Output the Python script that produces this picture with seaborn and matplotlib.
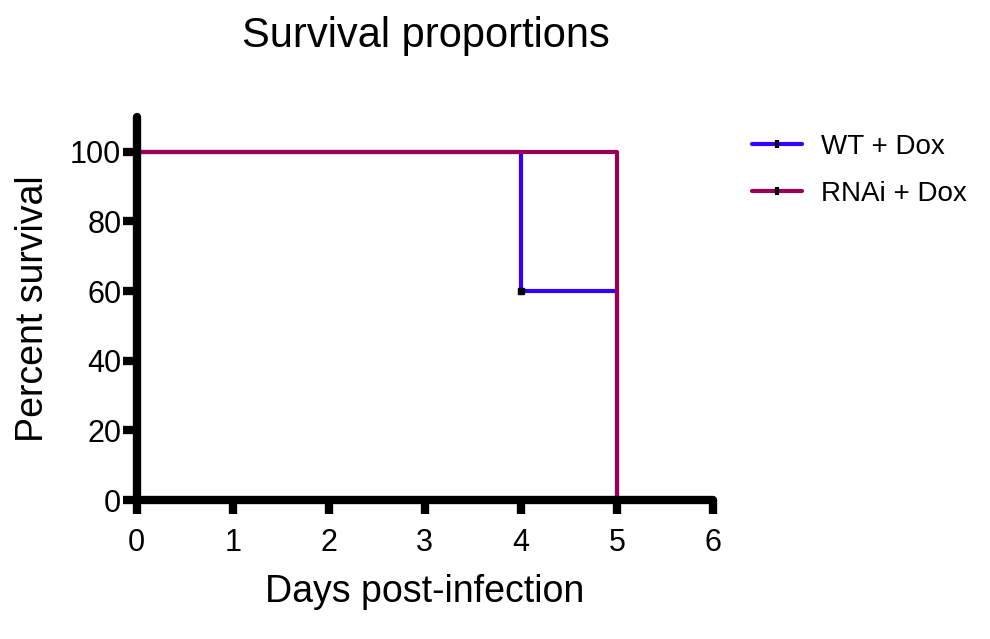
import numpy as np
import pandas as pd
import matplotlib
matplotlib.use("Agg")
import matplotlib.pyplot as plt
from matplotlib.lines import Line2D
import seaborn as sns

sns.set_theme(style="ticks")
plt.rcParams['font.family'] = ['Liberation Sans', 'DejaVu Sans']
plt.rcParams['text.color'] = 'black'
plt.rcParams['axes.labelcolor'] = 'black'
plt.rcParams['xtick.color'] = 'black'
plt.rcParams['ytick.color'] = 'black'

# Данные кривых выживания
wt_days = [0, 4, 5]
wt_survival = [100, 60, 0]
rnai_days = [0, 5]
rnai_survival = [100, 0]
x_ticks = [0, 1, 2, 3, 4, 5, 6]
y_ticks = [0, 20, 40, 60, 80, 100]
labels = ['WT + Dox', 'RNAi + Dox']
colors = ['#3300ff', '#990055']

wt = pd.DataFrame({'day': wt_days, 'survival': wt_survival})
rnai = pd.DataFrame({'day': rnai_days, 'survival': rnai_survival})

fig = plt.figure(figsize=(9.9, 6.39), dpi=100)
ax = fig.add_axes([0.138, 0.2175, 0.582, 0.5994])

sns.lineplot(data=wt, x='day', y='survival', drawstyle='steps-post',
             color=colors[0], lw=3, ax=ax, legend=False)
sns.lineplot(data=rnai, x='day', y='survival', drawstyle='steps-post',
             color=colors[1], lw=3, ax=ax, legend=False)

# Цензурированная точка
ax.plot([4], [60], marker='s', ms=4, color='black', ls='none')

ax.set_xlim(0, 6)
ax.set_ylim(0, 110)
ax.set_xticks(x_ticks)
ax.set_yticks(y_ticks)
ax.tick_params(axis='both', direction='out', length=10, width=6, labelsize=22,
               color='black')
ax.tick_params(axis='x', pad=10)
ax.tick_params(axis='y', pad=1)

sns.despine(ax=ax)
for side in ['left', 'bottom']:
    ax.spines[side].set_linewidth(6)
    ax.spines[side].set_color('black')
    ax.spines[side].set_capstyle('round')

ax.set_xlabel('Days post-infection', fontsize=27, labelpad=12)
ax.set_ylabel('Percent survival', fontsize=27)
ax.yaxis.set_label_coords(-0.148, 0.5)
fig.suptitle('Survival proportions', fontsize=30, x=0.43, y=0.975)

handles = [Line2D([0], [0], color=c, lw=3, marker='|', ms=6, mec='black', mew=3)
           for c in colors]
fig.legend(handles, labels, loc='upper left', bbox_to_anchor=(0.748, 0.808), frameon=False,
           fontsize=20, handlelength=1.8, handletextpad=0.7, labelspacing=0.75,
           borderaxespad=0)

fig.savefig('out.png', dpi=100)
